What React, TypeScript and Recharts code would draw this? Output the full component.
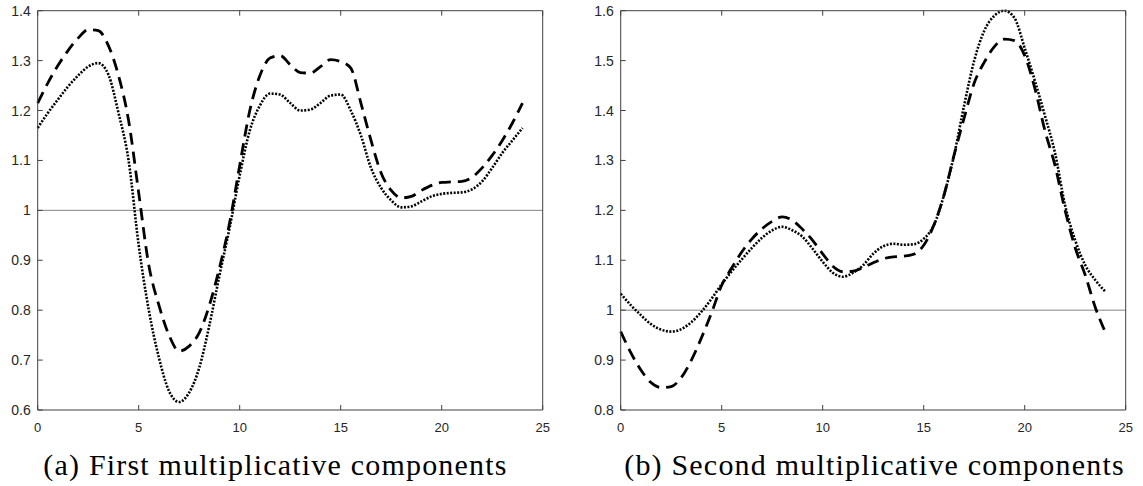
import React from "react";
import { LineChart, Line, XAxis, YAxis, ReferenceLine } from "recharts";

// hours, sampled every half step
const xValues = [
  0, 0.5, 1, 1.5, 2, 2.5, 3, 3.5, 4, 4.5, 5, 5.5, 6, 6.5, 7, 7.5, 8, 8.5, 9, 9.5, 10, 10.5, 11, 11.5, 12,
  12.5, 13, 13.5, 14, 14.5, 15, 15.5, 16, 16.5, 17, 17.5, 18, 18.5, 19, 19.5, 20, 20.5, 21, 21.5, 22, 22.5,
  23, 23.5, 24,
];

const firstDashed = [
  1.215, 1.255, 1.29, 1.32, 1.345, 1.362, 1.36, 1.33, 1.27, 1.18, 1.035, 0.89, 0.81, 0.75, 0.718, 0.728,
  0.755, 0.81, 0.885, 0.975, 1.09, 1.2, 1.27, 1.305, 1.31, 1.292, 1.276, 1.275, 1.288, 1.302, 1.298, 1.285,
  1.215, 1.14, 1.075, 1.04, 1.025, 1.028, 1.04, 1.05, 1.056, 1.057, 1.058, 1.066, 1.085, 1.11, 1.14, 1.175,
  1.215,
];

const firstDotted = [
  1.165, 1.195, 1.222, 1.248, 1.27, 1.288, 1.295, 1.272, 1.195, 1.1, 0.93, 0.8, 0.705, 0.638, 0.616, 0.635,
  0.685, 0.77, 0.87, 0.965, 1.07, 1.16, 1.21, 1.234, 1.232, 1.215, 1.2, 1.202, 1.215, 1.23, 1.232, 1.2, 1.15,
  1.085, 1.045, 1.02, 1.006, 1.008, 1.018, 1.028, 1.033, 1.035, 1.036, 1.042, 1.058, 1.085, 1.115, 1.14,
  1.165,
];

const secondDashed = [
  0.957, 0.915, 0.88, 0.855, 0.845, 0.847, 0.865, 0.9, 0.945, 0.995, 1.05, 1.085, 1.117, 1.143, 1.163, 1.178,
  1.187, 1.18, 1.162, 1.14, 1.113, 1.088, 1.077, 1.078, 1.085, 1.095, 1.103, 1.107, 1.108, 1.112, 1.13, 1.17,
  1.23, 1.31, 1.385, 1.455, 1.497, 1.528, 1.543, 1.54, 1.51, 1.445, 1.36, 1.29, 1.2, 1.125, 1.07, 1.005,
  0.955,
];

const secondDotted = [
  1.033, 1.01, 0.99, 0.972, 0.961, 0.957, 0.962, 0.976, 0.997, 1.023, 1.052, 1.078, 1.102, 1.125, 1.145,
  1.16, 1.167, 1.16, 1.147, 1.123, 1.097, 1.075, 1.067, 1.075, 1.09, 1.113, 1.128, 1.133, 1.131, 1.132, 1.143,
  1.17, 1.23, 1.31, 1.41, 1.5, 1.56, 1.59, 1.6, 1.585, 1.525, 1.46, 1.39, 1.315, 1.21, 1.14, 1.09, 1.06,
  1.037,
];

const xTicks = [0, 5, 10, 15, 20, 25];
const firstYTicks = [0.6, 0.7, 0.8, 0.9, 1, 1.1, 1.2, 1.3, 1.4];
const secondYTicks = [0.8, 0.9, 1, 1.1, 1.2, 1.3, 1.4, 1.5, 1.6];

const captions = ["(a) First multiplicative components", "(b) Second multiplicative components"];

const AXIS = "#404040";
const LABEL = "#262626";
const TICK_FONT = "'Liberation Sans', Arial, sans-serif";

const BottomTick = (props: any) => {
  const { x, y, payload } = props;
  return (
    <g>
      <line x1={x} x2={x} y1={y} y2={y - 5} stroke={AXIS} strokeWidth={1} />
      <text x={x} y={y + 22} textAnchor="middle" fontSize={13} fill={LABEL} style={{ fontFamily: TICK_FONT }}>
        {payload.value}
      </text>
    </g>
  );
};

const TopTick = (props: any) => {
  const { x, y } = props;
  return <line x1={x} x2={x} y1={y} y2={y + 5} stroke={AXIS} strokeWidth={1} />;
};

const LeftTick = (props: any) => {
  const { x, y, payload } = props;
  return (
    <g>
      <line x1={x} x2={x + 5} y1={y} y2={y} stroke={AXIS} strokeWidth={1} />
      <text x={x - 7} y={y + 5} textAnchor="end" fontSize={14} fill={LABEL} style={{ fontFamily: TICK_FONT }}>
        {payload.value}
      </text>
    </g>
  );
};

const RightTick = (props: any) => {
  const { x, y } = props;
  return <line x1={x} x2={x - 5} y1={y} y2={y} stroke={AXIS} strokeWidth={1} />;
};

function Panel({
  left,
  dashed,
  dotted,
  yDomain,
  yTicks,
}: {
  left: number;
  dashed: number[];
  dotted: number[];
  yDomain: [number, number];
  yTicks: number[];
}) {
  const rows = xValues.map((x, i) => ({ x, dashed: dashed[i], dotted: dotted[i] }));
  return (
    <div style={{ position: "absolute", left, top: 0, width: 560, height: 440 }}>
      <LineChart width={560} height={440} data={rows} margin={{ top: 9.7, left: 36.7, right: 16.3, bottom: 29 }}>
        <XAxis
          xAxisId="b"
          dataKey="x"
          type="number"
          domain={[0, 25]}
          ticks={xTicks}
          interval={0}
          height={1}
          tickSize={0}
          tickMargin={0}
          tickLine={false}
          axisLine={{ stroke: AXIS, strokeWidth: 1 }}
          tick={<BottomTick />}
        />
        <XAxis
          xAxisId="t"
          orientation="top"
          dataKey="x"
          type="number"
          domain={[0, 25]}
          ticks={xTicks}
          interval={0}
          height={1}
          tickSize={0}
          tickMargin={0}
          tickLine={false}
          axisLine={{ stroke: AXIS, strokeWidth: 1 }}
          tick={<TopTick />}
        />
        <YAxis
          yAxisId="l"
          type="number"
          domain={yDomain}
          ticks={yTicks}
          interval={0}
          width={1}
          tickSize={0}
          tickMargin={0}
          tickLine={false}
          axisLine={{ stroke: AXIS, strokeWidth: 1 }}
          tick={<LeftTick />}
        />
        <YAxis
          yAxisId="r"
          orientation="right"
          type="number"
          domain={yDomain}
          ticks={yTicks}
          interval={0}
          width={1}
          tickSize={0}
          tickMargin={0}
          tickLine={false}
          axisLine={{ stroke: AXIS, strokeWidth: 1 }}
          tick={<RightTick />}
        />
        <ReferenceLine xAxisId="b" yAxisId="l" y={1} stroke="#858585" strokeWidth={1} />
        <Line
          xAxisId="b"
          yAxisId="l"
          type="monotone"
          dataKey="dashed"
          stroke="#000"
          strokeWidth={2.8}
          strokeDasharray="12 7"
          dot={false}
          isAnimationActive={false}
        />
        <Line
          xAxisId="b"
          yAxisId="l"
          type="monotone"
          dataKey="dotted"
          stroke="#000"
          strokeWidth={2.6}
          strokeDasharray="2 1.5"
          dot={false}
          isAnimationActive={false}
        />
      </LineChart>
    </div>
  );
}

const captionStyle: React.CSSProperties = {
  position: "absolute",
  top: 448,
  fontFamily: "'Liberation Serif', serif",
  fontSize: 30,
  lineHeight: "34px",
  color: "#000",
  whiteSpace: "nowrap",
  textAlign: "center",
  letterSpacing: 1.2,
};

export default function App() {
  return (
    <div style={{ position: "absolute", left: 0, top: 0, width: 1143, height: 486, background: "#fff" }}>
      <Panel left={0} dashed={firstDashed} dotted={firstDotted} yDomain={[0.6, 1.4]} yTicks={firstYTicks} />
      <Panel left={583.3} dashed={secondDashed} dotted={secondDotted} yDomain={[0.8, 1.6]} yTicks={secondYTicks} />
      <div style={{ ...captionStyle, left: 0, width: 551 }}>{captions[0]}</div>
      <div style={{ ...captionStyle, left: 594, width: 561 }}>{captions[1]}</div>
    </div>
  );
}
